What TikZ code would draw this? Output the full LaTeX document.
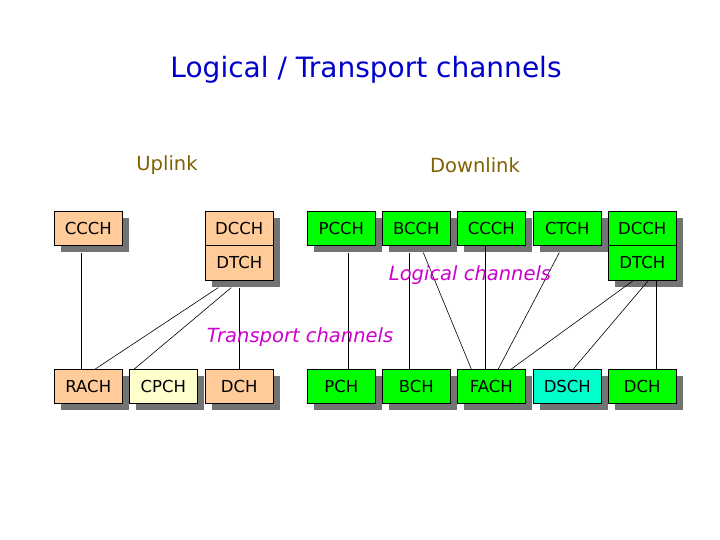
\documentclass[tikz,border=0pt]{standalone}
\usepackage{fontspec}
\setmainfont{DejaVu Sans}
\begin{document}
\begin{tikzpicture}[x=1pt,y=-1pt,
  box/.style={draw=black,line width=0.6pt,minimum width=68pt,minimum height=34pt,inner sep=0pt,font=\fontsize{16.5}{18}\selectfont},
  ln/.style={line width=0.6pt}]
\useasboundingbox (0,0) rectangle (720,540);
\definecolor{peach}{HTML}{FFCC99}
\definecolor{grn}{HTML}{00FF00}
\definecolor{cre}{HTML}{FFFFCC}
\definecolor{cya}{HTML}{00FFCC}
\definecolor{ttl}{HTML}{0000CC}
\definecolor{ol}{HTML}{806000}
\definecolor{mag}{HTML}{CC00CC}
% shadows
\foreach \x/\ya/\yb in {54/211/245,205/211/280,307/211/245,382/211/245,457/211/245,533/211/245,608/211/280,
  54/369/403,129/369/403,205/369/403,307/369/403,382/369/403,457/369/403,533/369/403,608/369/403}
  \fill[gray!90!black] (\x+7,\ya+7) rectangle (\x+75,\yb+7);
\node[box,fill=peach,anchor=north west] (ccch) at (54,211) {CCCH};
\node[box,fill=peach,anchor=north west] (dcch) at (205,211) {DCCH};
\node[box,fill=peach,anchor=north west,minimum height=35pt] (dtch) at (205,245) {DTCH};
\node[box,fill=grn,anchor=north west] (pcch) at (307,211) {PCCH};
\node[box,fill=grn,anchor=north west] (bcch) at (382,211) {BCCH};
\node[box,fill=grn,anchor=north west] (ccch2) at (457,211) {CCCH};
\node[box,fill=grn,anchor=north west] (ctch) at (533,211) {CTCH};
\node[box,fill=grn,anchor=north west] (dcch2) at (608,211) {DCCH};
\node[box,fill=grn,anchor=north west,minimum height=35pt] (dtch2) at (608,245) {DTCH};
\node[box,fill=peach,anchor=north west] (rach) at (54,369) {RACH};
\node[box,fill=cre,anchor=north west] (cpch) at (129,369) {CPCH};
\node[box,fill=peach,anchor=north west] (dch) at (205,369) {DCH};
\node[box,fill=grn,anchor=north west] (pch) at (307,369) {PCH};
\node[box,fill=grn,anchor=north west] (bch) at (382,369) {BCH};
\node[box,fill=grn,anchor=north west] (fach) at (457,369) {FACH};
\node[box,fill=cya,anchor=north west] (dsch) at (533,369) {DSCH};
\node[box,fill=grn,anchor=north west] (dch2) at (608,369) {DCH};
% connectors
\draw[ln] ([shift={(-7,7)}]ccch.south) -- ([xshift=-7]rach.north);
\draw[ln] ([shift={(-21,7)}]dtch.south) -- ([xshift=7]rach.north);
\draw[ln] ([shift={(-8,7)}]dtch.south) -- ([xshift=-29]cpch.north);
\draw[ln] ([shift={(0,7)}]dtch.south) -- (dch.north);
\draw[ln] ([shift={(7,7)}]pcch.south) -- ([xshift=7]pch.north);
\draw[ln] ([shift={(-7,7)}]bcch.south) -- ([xshift=-7]bch.north);
\draw[ln] ([shift={(7,7)}]bcch.south) -- ([xshift=-20]fach.north);
\draw[ln] ([shift={(-6,0)}]ccch2.south) -- ([xshift=-6]fach.north);
\draw[ln] ([shift={(-8,7)}]ctch.south) -- ([xshift=7]fach.north);
\draw[ln] ([shift={(-9,0)}]dtch2.south) -- ([xshift=20]fach.north);
\draw[ln] ([shift={(6,0)}]dtch2.south) -- ([xshift=6]dsch.north);
\draw[ln] ([shift={(14,0)}]dtch2.south) -- ([xshift=14]dch2.north);
% texts
\node[text=ttl,font=\fontsize{28}{32}\selectfont] (title) at (366,70) {Logical / Transport channels};
\node[text=ol,font=\fontsize{19.5}{22}\selectfont] (up) at (167,165) {Uplink};
\node[text=ol,font=\fontsize{19.5}{22}\selectfont] (down) at (475,165) {Downlink};
\node[text=mag,font=\itshape\fontsize{19.5}{22}\selectfont] (lc) at (470,275) {Logical channels};
\node[text=mag,font=\itshape\fontsize{19.5}{22}\selectfont] (tc) at (300,337) {Transport channels};
\end{tikzpicture}
\end{document}
